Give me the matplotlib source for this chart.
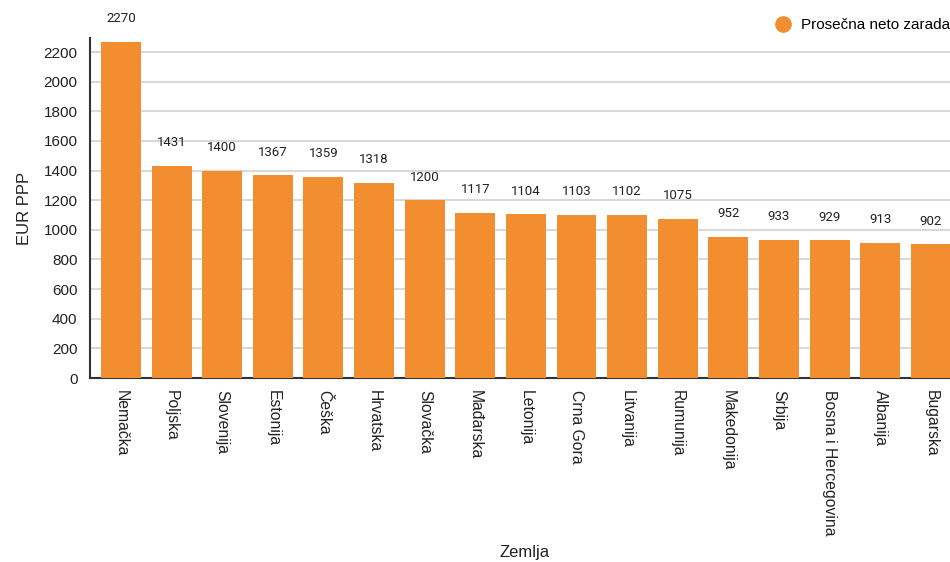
import matplotlib.pyplot as plt
from matplotlib.lines import Line2D

countries = ["Nemačka", "Poljska", "Slovenija", "Estonija", "Češka", "Hrvatska",
             "Slovačka", "Mađarska", "Letonija", "Crna Gora", "Litvanija", "Rumunija",
             "Makedonija", "Srbija", "Bosna i Hercegovina", "Albanija", "Bugarska"]
salaries = [2270, 1431, 1400, 1367, 1359, 1318, 1200, 1117, 1104, 1103, 1102, 1075,
            952, 933, 929, 913, 902]
yticks = list(range(0, 2201, 200))

plt.rcParams["font.family"] = ["Liberation Sans", "DejaVu Sans"]
bar_color = "#f28e30"

fig = plt.figure(figsize=(9.5, 5.62), dpi=100)
ax = fig.add_axes([90 / 950, 184 / 562, 860 / 950, 340 / 562])

x = list(range(len(countries)))
bars = ax.bar(x, salaries, width=0.79, color=bar_color, zorder=3)

for xi, v in zip(x, salaries):
    ax.annotate(str(v), (xi, v), xytext=(0, 12), textcoords="offset points",
                ha="center", va="bottom", fontsize=9.5, color="#222222",
                family=["Roboto", "DejaVu Sans"], fontstretch="condensed")

ax.set_xlim(-0.613, 16.38)
ax.set_ylim(0, 2295)
ax.set_yticks(yticks)
ax.set_yticklabels([str(t) for t in yticks], fontsize=11, color="#222222")
ax.set_xticks(x)
ax.set_xticklabels(countries, rotation=-90, ha="center", va="top", fontsize=11.3,
                   color="#222222")
ax.tick_params(axis="both", length=0, pad=9)
ax.tick_params(axis="y", pad=9)

ax.grid(axis="y", color="#d9d9d9", linewidth=1.5, zorder=0)
for side in ["top", "right"]:
    ax.spines[side].set_visible(False)
for side in ["left", "bottom"]:
    ax.spines[side].set_color("#333333")
    ax.spines[side].set_linewidth(1.5)

ax.set_ylabel("EUR PPP", fontsize=12, color="#222222", labelpad=8)
fig.text(525 / 950, 1 - 552 / 562, "Zemlja", ha="center", va="center", fontsize=12,
         color="#222222")

handle = Line2D([], [], marker="o", linestyle="none", markersize=11,
                markerfacecolor=bar_color, markeredgecolor=bar_color)
fig.legend([handle], ["Prosečna neto zarada"], loc="upper right",
           bbox_to_anchor=(1.0, 1 - 18 / 562), frameon=False, fontsize=11,
           handletextpad=0.2, borderpad=0, borderaxespad=0)

fig.savefig("out.png", dpi=100)
